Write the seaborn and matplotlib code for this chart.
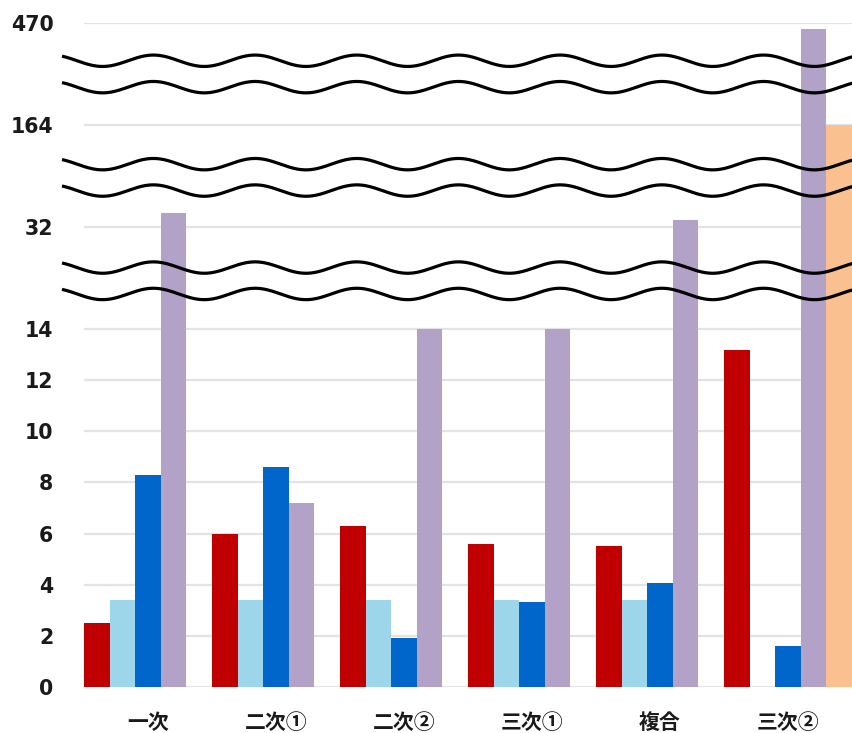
import numpy as np
import pandas as pd
import matplotlib
matplotlib.use("Agg")
import matplotlib.pyplot as plt
import seaborn as sns

# ---- data -------------------------------------------------------------
categories = ["一次", "二次①", "二次②", "三次①", "複合", "三次②"]
series = ["系列1", "系列2", "系列3", "系列4", "系列5"]
colors = ["#C00000", "#9DD5EA", "#0066CC", "#B3A2C7", "#FAC090"]

s1 = [2.5, 6.0, 6.3, 5.6, 5.5, 13.2]
s2 = [3.4, 3.4, 3.4, 3.4, 3.4, np.nan]
s3 = [8.3, 8.6, 1.9, 3.3, 4.05, 1.6]
s4 = [50.0, 7.2, 14.0, 14.0, 41.0, 451.0]
s5 = [np.nan, np.nan, np.nan, np.nan, np.nan, 164.0]

tick_values = [0, 2, 4, 6, 8, 10, 12, 14, 32, 164, 470]

# broken value axis: value breakpoints and where they sit on the drawn scale
break_values = [0, 14, 32, 164, 470]
break_positions = [0, 14, 18, 22, 26]


def to_pos(v):
    return np.interp(v, break_values, break_positions)


rows = []
for name, vals in zip(series, [s1, s2, s3, s4, s5]):
    for cat, v in zip(categories, vals):
        if not np.isnan(v):
            rows.append({"cat": cat, "series": name, "value": v, "pos": to_pos(v)})
df = pd.DataFrame(rows)

# ---- figure -----------------------------------------------------------
sns.set_theme(style="white")
plt.rcParams["font.family"] = ["DejaVu Sans", "Noto Sans CJK JP"]

W, H = 853, 733
fig = plt.figure(figsize=(W / 100, H / 100), dpi=100)
ax_left, ax_right = 84, 852
ax_top, ax_bottom = 22.9, 686.7
ax = fig.add_axes([ax_left / W, 1 - ax_bottom / H,
                   (ax_right - ax_left) / W, (ax_bottom - ax_top) / H])

sns.barplot(data=df, x="cat", y="pos", hue="series", order=categories,
            hue_order=series, palette=colors, width=1.0, dodge=True,
            saturation=1, linewidth=0, legend=False, ax=ax, zorder=2)

ax.set_xlim(-0.5, len(categories) - 0.5)
ax.set_ylim(0, 26)

tick_pos = to_pos(np.array(tick_values, dtype=float))
ax.set_yticks(tick_pos)
ax.set_yticklabels([str(t) for t in tick_values], fontsize=14.8,
                   fontweight="bold", color="#1a1a1a")
for p in tick_pos:
    ax.axhline(p, color="#e3e3e3", lw=1.6, zorder=1)

ax.set_xticks(range(len(categories)))
ax.set_xticklabels(categories, family=["Noto Sans CJK JP", "DejaVu Sans"],
                   fontsize=15, fontweight="bold", color="#1a1a1a")
ax.tick_params(axis="y", length=0, pad=22)
ax.tick_params(axis="x", length=0, pad=18)
ax.set_xlabel("")
ax.set_ylabel("")
ax.grid(False)
for sp in ax.spines.values():
    sp.set_visible(False)

# ---- wavy break marks -------------------------------------------------
px_per_cat = (ax_right - ax_left) / len(categories)
px_per_unit = (ax_bottom - ax_top) / 26
px = np.linspace(62, 853, 800)
xd = (px - ax_left) / px_per_cat - 0.5
wave = (5.7 / px_per_unit) * np.cos(2 * np.pi * (px - 51.7) / 101.7)
offset = 13.2 / px_per_unit
for centre in [15.9, 19.95, 24.0]:
    for sgn in (1, -1):
        ax.plot(xd, centre + sgn * offset + wave, color="black", lw=2.3,
                clip_on=False, zorder=5, solid_capstyle="butt")

fig.savefig("out.png", dpi=100)
